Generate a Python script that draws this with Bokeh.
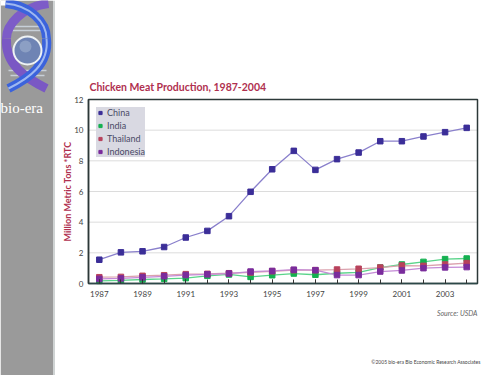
import math
from bokeh.plotting import figure
from bokeh.models import (Range1d, Legend, LegendItem, Label, LinearAxis, FixedTicker)
from bokeh.embed import file_html
from bokeh.resources import INLINE
from bokeh.core.properties import value

# ---- data ----
years = list(range(1987, 2005))
china = [1.55, 2.03, 2.10, 2.38, 3.00, 3.43, 4.39, 5.98, 7.45, 8.65, 7.41, 8.11, 8.54, 9.28, 9.28, 9.59, 9.87, 10.15]
india = [0.17, 0.20, 0.26, 0.30, 0.35, 0.50, 0.59, 0.43, 0.54, 0.65, 0.57, 0.67, 0.72, 1.04, 1.24, 1.41, 1.59, 1.63]
thailand = [0.41, 0.43, 0.50, 0.54, 0.61, 0.63, 0.67, 0.72, 0.80, 0.87, 0.87, 0.91, 0.96, 1.04, 1.17, 1.15, 1.24, 1.33]
indonesia = [0.30, 0.33, 0.40, 0.47, 0.55, 0.60, 0.65, 0.78, 0.82, 0.90, 0.87, 0.55, 0.55, 0.78, 0.85, 1.00, 1.05, 1.07]
series_names = ["China", "India", "Thailand", "Indonesia"]
x_ticks = [1987, 1989, 1991, 1993, 1995, 1997, 1999, 2001, 2003]
y_ticks = [0, 2, 4, 6, 8, 10, 12]
grid_ticks = [2, 4, 6, 8, 10]

marker_colors = ["#3b2e98", "#14b050", "#b8425c", "#7a2c9c"]
line_colors = ["#8a80cc", "#5ad48a", "#dba2ae", "#c48ad6"]

FONT = "Lato"
CRIMSON = "#b0304f"

W, H = 500, 375
# chart frame in page pixels
FL, FR, FT, FB = 88, 477, 99, 283
X0, X1 = 1986.5, 2004.5
Y0, Y1 = 0, 12
kx = (X1 - X0) / (FR - FL)
ky = (Y1 - Y0) / (FB - FT)

p = figure(width=W, height=H, x_range=Range1d(0, W), y_range=Range1d(H, 0),
           toolbar_location=None, output_backend="svg", min_border=0,
           x_axis_location=None, y_axis_location=None)
p.grid.visible = False
p.outline_line_color = None
p.background_fill_color = "white"
p.border_fill_color = "white"
p.extra_x_ranges = {"cx": Range1d(X0 - FL * kx, X1 + (W - FR) * kx)}
p.extra_y_ranges = {"cy": Range1d(Y0 - (H - FB) * ky, Y1 + FT * ky)}

# ---- sidebar (decoration, page pixels) ----
p.quad(left=[0], right=[52.5], top=[0], bottom=[H], fill_color="#9a9a9a", line_color=None)
p.quad(left=[52.5], right=[54.5], top=[0], bottom=[H], fill_color="#cfd3d3", line_color=None)
p.quad(left=[0], right=[7], top=[0], bottom=[5], fill_color="white", line_color=None)
# rungs
p.segment(x0=[10, 8, 8, 10], x1=[44, 46, 46, 44], y0=[26, 30, 70, 75], y1=[26, 30, 70, 75],
          line_color="#c8d0d8", line_width=1.5)
# ribbons
p.bezier(x0=[48], y0=[3], x1=[6], y1=[38], cx0=[22], cy0=[6], cx1=[6], cy1=[24],
         line_color="#7d5cc8", line_width=9)
p.bezier(x0=[6], y0=[38], x1=[46], y1=[88], cx0=[4], cy0=[64], cx1=[26], cy1=[78],
         line_color="#7a58c4", line_width=9)
p.bezier(x0=[5], y0=[3], x1=[46], y1=[38], cx0=[30], cy0=[5], cx1=[46], cy1=[22],
         line_color="#3b63dc", line_width=9)
p.bezier(x0=[5], y0=[3], x1=[46], y1=[38], cx0=[30], cy0=[5], cx1=[46], cy1=[22],
         line_color="#9fb8f0", line_width=2)
p.bezier(x0=[46], y0=[38], x1=[8], y1=[88], cx0=[49], cy0=[64], cx1=[28], cy1=[78],
         line_color="#3b63dc", line_width=9)
p.bezier(x0=[46], y0=[38], x1=[8], y1=[88], cx0=[49], cy0=[64], cx1=[28], cy1=[78],
         line_color="#9fb8f0", line_width=2)
p.circle(x=[27], y=[50], radius=14, fill_color="#6f84b4", line_color="#eef2f4", line_width=2)
p.circle(x=[25], y=[46], radius=6, fill_color="#93a6c8", line_color=None, fill_alpha=0.8)
p.text(x=[0], y=[107], text=["bio-era"], text_color="white", text_font=value("Liberation Serif"),
       text_font_size="15px", text_baseline="alphabetic")

# ---- chart ----
p.segment(x0=X0, x1=X1, y0=grid_ticks, y1=grid_ticks, line_color="#dcdcdc", line_width=1,
          x_range_name="cx", y_range_name="cy")

items = []
for name, vals, mc, lc in zip(series_names, [china, india, thailand, indonesia], marker_colors, line_colors):
    p.line(years, vals, line_color=lc, line_width=1.3, x_range_name="cx", y_range_name="cy")
    r = p.scatter(years, vals, marker="square", size=5.5, fill_color=mc, line_color=mc,
                  x_range_name="cx", y_range_name="cy")
    items.append(LegendItem(label=name, renderers=[r]))

# frame outline
p.quad(left=[X0], right=[X1], bottom=[Y0], top=[Y1], fill_color=None, line_color="#2c3838",
       line_width=1.5, x_range_name="cx", y_range_name="cy")

xaxis = LinearAxis(x_range_name="cx", y_range_name="cy", fixed_location=Y0, bounds=(X0, X1),
                   ticker=FixedTicker(ticks=x_ticks, minor_ticks=years))
xaxis.major_tick_in = 4
xaxis.major_tick_out = 0
xaxis.minor_tick_in = 4
xaxis.minor_tick_out = 0
xaxis.major_tick_line_color = "#333333"
xaxis.minor_tick_line_color = "#333333"
xaxis.axis_line_color = "#2c4848"
xaxis.axis_line_width = 1.5
xaxis.major_label_text_font = FONT
xaxis.major_label_text_font_size = "8px"
xaxis.major_label_text_color = "#444444"
xaxis.major_label_standoff = 7
p.add_layout(xaxis, "below")

yaxis = LinearAxis(x_range_name="cx", y_range_name="cy", fixed_location=X0, bounds=(Y0, Y1),
                   ticker=FixedTicker(ticks=y_ticks))
yaxis.major_tick_in = 0
yaxis.major_tick_out = 0
yaxis.minor_tick_line_color = None
yaxis.axis_line_color = "#2c3838"
yaxis.axis_line_width = 1.5
yaxis.major_label_text_font = FONT
yaxis.major_label_text_font_size = "8px"
yaxis.major_label_text_color = "#444444"
yaxis.major_label_standoff = 5
p.add_layout(yaxis, "left")

legend = Legend(items=items, location=(96, H - 157))
legend.background_fill_color = "#d9d9e2"
legend.background_fill_alpha = 1
legend.border_line_color = None
legend.label_text_font = FONT
legend.label_text_font_size = "9px"
legend.label_text_color = "#4a4a66"
legend.glyph_width = 8
legend.glyph_height = 9
legend.label_height = 9
legend.label_standoff = 3
legend.spacing = 2
legend.padding = 6
legend.margin = 0
p.add_layout(legend)

# ---- texts ----
p.add_layout(Label(x=89, y=86, text="Chicken Meat Production, 1987-2004",
                   text_font=FONT, text_font_size="10.5px", text_font_style="bold", text_color=CRIMSON,
                   text_baseline="alphabetic"))
p.add_layout(Label(x=67, y=(FT + FB) / 2, text="Million Metric Tons *RTC", angle=math.pi / 2,
                   text_font=FONT, text_font_size="9px", text_font_style="bold", text_color=CRIMSON,
                   text_align="center", text_baseline="middle"))
p.add_layout(Label(x=477, y=312, text="Source: USDA",
                   text_font=FONT, text_font_size="7px", text_font_style="italic", text_color="#666666",
                   text_align="right", text_baseline="alphabetic"))
p.add_layout(Label(x=480, y=361, text="\u00a92005 bio-era Bio Economic Research Associates",
                   text_font=FONT, text_font_size="5px", text_color="#444444",
                   text_align="right", text_baseline="alphabetic"))

open("out.html", "w").write(file_html(p, INLINE))
